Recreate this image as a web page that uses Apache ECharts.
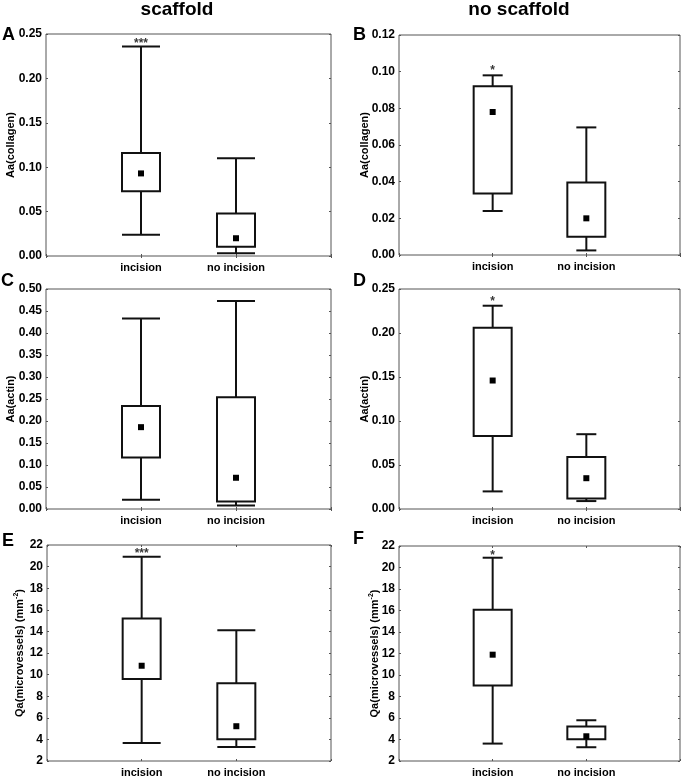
<!DOCTYPE html>
<html>
<head>
<meta charset="utf-8">
<title>scaffold / no scaffold</title>
<script src="https://cdn.jsdelivr.net/npm/echarts@6/dist/echarts.min.js"></script>
<style>
  html, body { margin: 0; padding: 0; background: #fff; }
  #main { width: 685px; height: 778px; }
</style>
</head>
<body>
<div id="main"></div>
<script>
// groups on the x axis
var groups = ['incision', 'no incision'];

// each group: [lower whisker, box bottom, middle point, box top, upper whisker]
var aStats = [[0.024, 0.073, 0.093, 0.116, 0.236], [0.003, 0.0105, 0.020, 0.048, 0.110]];
var bStats = [[0.024, 0.0336, 0.078, 0.092, 0.098], [0.0025, 0.010, 0.020, 0.0396, 0.0696]];
var cStats = [[0.021, 0.117, 0.186, 0.234, 0.433], [0.008, 0.017, 0.071, 0.254, 0.473]];
var dStats = [[0.020, 0.083, 0.146, 0.206, 0.231], [0.009, 0.012, 0.035, 0.059, 0.085]];
var eStats = [[3.67, 9.59, 10.82, 15.19, 20.92], [3.30, 4.01, 5.22, 9.21, 14.10]];
var fStats = [[3.62, 9.03, 11.89, 16.06, 20.91], [3.28, 4.02, 4.30, 5.20, 5.79]];

// significance marks above "incision": [text, y value]
var aStar = ['***', 0.242];
var bStar = ['*', 0.102];
var dStar = ['*', 0.2386];
var eStar = ['***', 21.44];
var fStar = ['*', 21.4];

// y axis ranges: [min, max, interval, decimals]
var aRange = [0, 0.25, 0.05, 2];
var bRange = [0, 0.12, 0.02, 2];
var cRange = [0, 0.50, 0.05, 2];
var dRange = [0, 0.25, 0.05, 2];
var eRange = [2, 22, 2, 0];
var fRange = [2, 22, 2, 0];

var colTitles = ['scaffold', 'no scaffold'];
var panelLetters = ['A', 'B', 'C', 'D', 'E', 'F'];
var yNames = ['Aa(collagen)', 'Aa(collagen)', 'Aa(actin)', 'Aa(actin)',
  '{t|Qa(microvessels) (mm}{s|-2}{t|)}', '{t|Qa(microvessels) (mm}{s|-2}{t|)}'];

var FONT = '"Liberation Sans", Arial, sans-serif';
var INK = '#000';
var FRAME = '#555';

var panels = [
  {stats: aStats, range: aRange, star: aStar},
  {stats: bStats, range: bRange, star: bStar},
  {stats: cStats, range: cRange, star: null},
  {stats: dStats, range: dRange, star: dStar},
  {stats: eStats, range: eRange, star: eStar},
  {stats: fStats, range: fRange, star: fStar}
];

// plot boxes, pixel positions
var grids = [
  {left: 46, top: 34, width: 285, height: 222},
  {left: 399, top: 35, width: 281, height: 220},
  {left: 46, top: 289, width: 285, height: 220},
  {left: 399, top: 289, width: 281, height: 220},
  {left: 47, top: 545, width: 284, height: 216},
  {left: 399, top: 546, width: 281, height: 215}
];
var nameGaps = [30, 29, 30, 29, 20, 17];
var letterPos = [[2, 26], [353, 26], [1, 272], [353, 272], [2, 532], [353, 530]];

// x axis positions: empty slots at both ends so the groups sit at 1/3 and 2/3
var xCats = [''].concat(groups).concat(['']);

function boxRenderer(capHalf) {
  return function (params, api) {
    var x = api.value(0);
    var lo = api.coord([x, api.value(1)]);
    var q1 = api.coord([x, api.value(2)]);
    var q3 = api.coord([x, api.value(4)]);
    var hi = api.coord([x, api.value(5)]);
    var half = 19;
    var st = {stroke: '#111', lineWidth: 2, fill: null};
    return {
      type: 'group',
      children: [
        {type: 'line', shape: {x1: hi[0], y1: hi[1], x2: q3[0], y2: q3[1]}, style: st},
        {type: 'line', shape: {x1: lo[0], y1: lo[1], x2: q1[0], y2: q1[1]}, style: st},
        {type: 'line', shape: {x1: hi[0] - capHalf, y1: hi[1], x2: hi[0] + capHalf, y2: hi[1]}, style: st},
        {type: 'line', shape: {x1: lo[0] - capHalf, y1: lo[1], x2: lo[0] + capHalf, y2: lo[1]}, style: st},
        {type: 'rect', shape: {x: q3[0] - half, y: q3[1], width: half * 2, height: q1[1] - q3[1]},
          style: {stroke: '#111', lineWidth: 2, fill: '#fff'}}
      ]
    };
  };
}

var option = {
  animation: false,
  backgroundColor: '#fff',
  title: [],
  grid: [],
  xAxis: [],
  yAxis: [],
  series: []
};

colTitles.forEach(function (t, i) {
  option.title.push({
    text: t, left: i === 0 ? 177 : 519, top: 0, padding: 0, textAlign: 'center',
    textStyle: {fontFamily: FONT, fontWeight: 'bold', fontSize: 19, color: INK}
  });
});
panelLetters.forEach(function (t, i) {
  option.title.push({
    text: t, left: letterPos[i][0], top: letterPos[i][1], padding: 0,
    textStyle: {fontFamily: FONT, fontWeight: 'bold', fontSize: 18, color: INK}
  });
});

panels.forEach(function (p, i) {
  var g = grids[i];
  var rightCol = i % 2 === 1;
  option.grid.push({
    left: g.left, top: g.top, width: g.width, height: g.height,
    show: true, borderColor: FRAME, borderWidth: 1, backgroundColor: 'transparent'
  });
  var xBase = {
    type: 'category', data: xCats, boundaryGap: false, gridIndex: i,
    axisLine: {show: false},
    axisTick: {show: true, inside: true, length: 2, lineStyle: {color: FRAME}},
    splitLine: {show: false}
  };
  option.xAxis.push(Object.assign({}, xBase, {
    position: 'bottom',
    axisLabel: {fontFamily: FONT, fontWeight: 'bold', fontSize: 11, color: INK, margin: 6}
  }));
  option.xAxis.push(Object.assign({}, xBase, {position: 'top', axisLabel: {show: false}}));

  var r = p.range;
  var yBase = {
    type: 'value', gridIndex: i, min: r[0], max: r[1], interval: r[2],
    axisLine: {show: false},
    axisTick: {show: true, inside: true, length: 2, lineStyle: {color: FRAME}},
    splitLine: {show: false}
  };
  option.yAxis.push(Object.assign({}, yBase, {
    position: 'left',
    name: yNames[i], nameLocation: 'middle', nameGap: nameGaps[i], nameRotate: 90,
    nameMoveOverlap: false,
    nameTextStyle: {
      fontFamily: FONT, fontWeight: 'bold', fontSize: 11, color: INK,
      rich: {
        t: {fontFamily: FONT, fontWeight: 'bold', fontSize: 11, color: INK, lineHeight: 14},
        s: {fontFamily: FONT, fontWeight: 'bold', fontSize: 7, color: INK, lineHeight: 14, verticalAlign: 'top', padding: [0, 0, 6, 0]}
      }
    },
    axisLabel: {
      fontFamily: FONT, fontWeight: 'bold', fontSize: 12, color: INK, margin: 4,
      formatter: (function (dec) { return function (v) { return v.toFixed(dec); }; })(r[3])
    }
  }));
  option.yAxis.push(Object.assign({}, yBase, {position: 'right', axisLabel: {show: false}}));

  var xi = i * 2, yi = i * 2;
  var boxData = p.stats.map(function (s, k) { return [k + 1].concat(s); });
  option.series.push({
    type: 'custom', xAxisIndex: xi, yAxisIndex: yi,
    renderItem: boxRenderer(rightCol ? 10 : 19),
    encode: {x: 0, y: [1, 2, 3, 4, 5]},
    data: boxData, z: 2
  });
  option.series.push({
    type: 'scatter', xAxisIndex: xi, yAxisIndex: yi,
    symbol: 'rect', symbolSize: 6, itemStyle: {color: '#000', opacity: 1},
    data: p.stats.map(function (s, k) { return [k + 1, s[2]]; }), z: 3
  });
  if (p.star) {
    option.series.push({
      type: 'scatter', xAxisIndex: xi, yAxisIndex: yi,
      symbolSize: 0,
      label: {
        show: true, position: 'inside', formatter: p.star[0],
        fontFamily: FONT, fontWeight: 'bold', fontSize: 12, color: INK, offset: [0, 3]
      },
      data: [[1, p.star[1]]], z: 3
    });
  }
});

var myChart = echarts.init(document.getElementById('main'));
myChart.setOption(option);
</script>
</body>
</html>
